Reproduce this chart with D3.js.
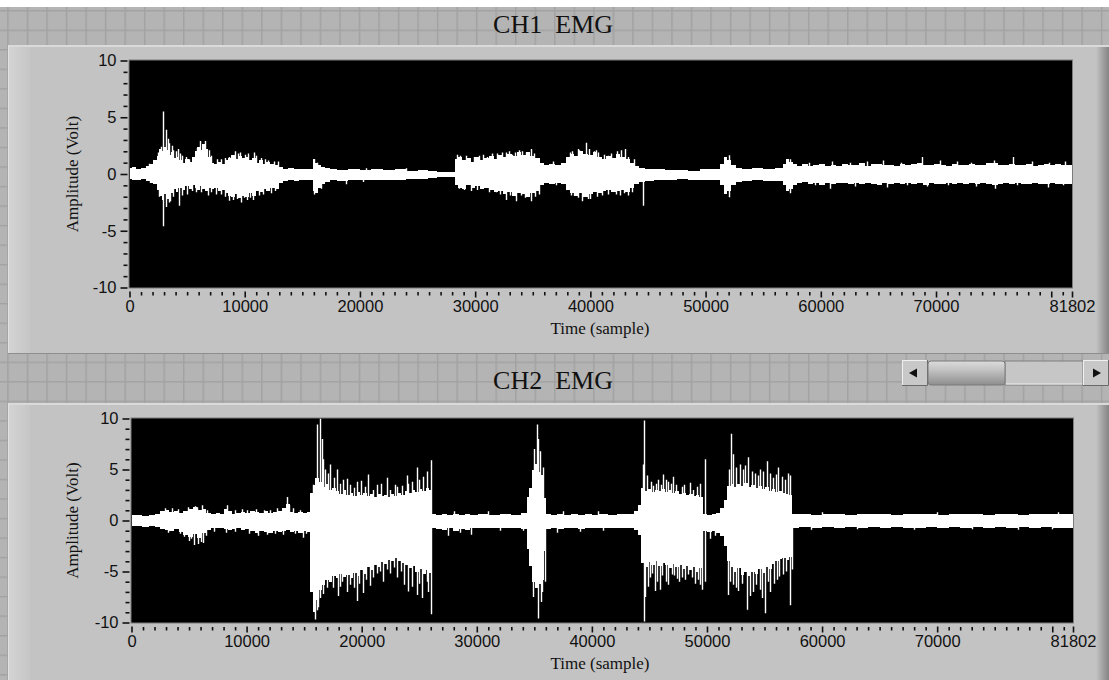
<!DOCTYPE html>
<html><head><meta charset="utf-8">
<script src="https://cdn.jsdelivr.net/npm/d3@7"></script>
<style>body{margin:0;background:#fff;overflow:hidden}svg{display:block}</style>
</head><body><svg id="c" width="1109" height="680"></svg>
<script>
// ---------------- DATA ----------------
const titles = ["CH1  EMG", "CH2  EMG"];
const yTickValues = [10, 5, 0, -5, -10];
const xTickValues = [0, 10000, 20000, 30000, 40000, 50000, 60000, 70000, 80000, 81802];
const xTickLabels = ["0", "10000", "20000", "30000", "40000", "50000", "60000", "70000", "", "81802"];
const xMax = 81802;
const yLabel = "Amplitude (Volt)";
const xLabel = "Time (sample)";

// CH1 envelope: [sample, upper volt, lower volt]
const ch1Envelope = [[0,0.5,-0.45],[400,0.6,-0.5],[800,0.45,-0.55],[1200,0.55,-0.45],[1600,0.7,-0.6],[1900,0.9,-0.75],[2200,1.2,-0.9],[2500,1.6,-1.4],[2700,2.2,-1.9],[2900,2.0,-2.3],[3100,2.4,-1.8],[3300,2.1,-2.2],[3500,1.7,-1.5],[3700,1.9,-1.7],[3900,1.4,-1.3],[4100,1.5,-1.6],[4400,1.2,-1.2],[4700,1.0,-1.4],[5000,1.3,-1.1],[5300,1.1,-1.3],[5600,1.5,-1.0],[5800,2.0,-1.2],[6000,2.4,-1.4],[6200,2.1,-1.1],[6400,2.6,-1.3],[6700,2.2,-1.5],[6950,1.5,-1.2],[7200,1.0,-1.3],[7500,0.9,-1.2],[7800,1.1,-1.5],[8100,0.9,-1.4],[8400,1.2,-1.7],[8700,1.4,-1.9],[9000,1.7,-2.0],[9300,1.3,-1.8],[9600,1.6,-2.1],[9900,1.4,-1.9],[10200,1.5,-2.0],[10500,1.2,-1.7],[10800,1.4,-1.9],[11100,1.0,-1.5],[11400,1.2,-1.6],[11700,0.9,-1.3],[12000,1.1,-1.5],[12400,0.9,-1.2],[12800,0.8,-1.3],[13200,0.6,-0.8],[13500,0.45,-0.6],[14000,0.5,-0.55],[14500,0.4,-0.6],[15000,0.45,-0.5],[15500,0.4,-0.55],[15900,0.4,-0.55],[16000,1.3,-1.5],[16200,1.0,-1.7],[16500,0.8,-1.2],[16800,0.6,-0.9],[17200,0.5,-0.7],[17600,0.4,-0.55],[18500,0.35,-0.6],[19500,0.4,-0.5],[20500,0.35,-0.55],[21500,0.4,-0.5],[22500,0.35,-0.5],[23500,0.4,-0.55],[24500,0.3,-0.45],[25500,0.35,-0.45],[26300,0.25,-0.35],[27000,0.2,-0.25],[28200,0.2,-0.25],[28350,1.3,-1.0],[28700,1.5,-1.2],[29000,1.2,-1.3],[29400,1.4,-1.0],[29800,1.1,-1.2],[30200,1.5,-1.1],[30600,1.2,-1.3],[31000,1.4,-1.2],[31400,1.6,-1.4],[31800,1.3,-1.6],[32200,1.7,-1.5],[32600,1.5,-1.8],[33000,1.8,-1.6],[33400,1.6,-1.9],[33800,1.9,-1.7],[34200,1.7,-1.8],[34600,1.9,-2.0],[35000,1.6,-1.7],[35400,1.4,-1.5],[35800,1.0,-1.0],[36200,0.8,-0.8],[36700,0.9,-0.9],[37200,0.8,-0.8],[37700,1.0,-0.9],[38100,1.5,-1.4],[38400,1.8,-1.7],[38800,1.6,-1.9],[39200,2.0,-1.7],[39600,1.8,-2.0],[40000,1.7,-1.8],[40400,1.9,-1.6],[40800,1.5,-1.7],[41200,1.3,-1.5],[41600,1.6,-1.4],[42000,1.4,-1.6],[42400,1.8,-1.5],[42800,1.5,-1.4],[43200,1.3,-1.6],[43600,1.0,-1.2],[44000,0.7,-0.9],[44400,0.5,-0.7],[45000,0.45,-0.6],[46000,0.4,-0.55],[47000,0.35,-0.5],[48000,0.35,-0.45],[49000,0.3,-0.5],[50000,0.4,-0.5],[51000,0.45,-0.55],[51500,0.9,-1.0],[51700,1.5,-1.8],[52000,1.2,-1.5],[52400,0.8,-1.0],[52800,0.5,-0.7],[53500,0.45,-0.6],[54500,0.5,-0.55],[55500,0.45,-0.6],[56500,0.5,-0.6],[56900,0.9,-1.0],[57100,1.3,-1.5],[57400,1.1,-1.3],[57700,0.9,-1.0],[58100,0.7,-0.8],[58600,0.9,-0.7],[59100,0.7,-0.9],[59600,0.8,-0.8],[60100,0.9,-1.0],[60600,0.7,-0.8],[61100,0.8,-0.9],[61600,0.7,-0.75],[62100,0.9,-0.8],[62600,0.75,-0.9],[63100,0.8,-0.75],[63600,0.95,-0.85],[64100,0.7,-0.8],[64600,0.85,-0.9],[65100,0.9,-1.0],[65600,0.75,-0.8],[66100,0.8,-0.9],[66600,0.7,-0.75],[67100,0.85,-0.85],[67600,0.75,-0.8],[68100,0.9,-0.9],[68600,1.0,-0.8],[69100,0.8,-0.95],[69600,0.75,-0.8],[70100,0.9,-0.85],[70600,0.8,-0.9],[71100,0.7,-0.75],[71600,0.85,-0.85],[72100,0.75,-0.8],[72600,0.8,-0.9],[73100,0.9,-0.8],[73600,0.75,-0.85],[74100,0.8,-0.8],[74600,0.95,-0.9],[75100,1.0,-1.0],[75600,0.8,-0.85],[76100,0.75,-0.8],[76600,0.9,-0.9],[77100,0.8,-0.8],[77600,0.75,-0.85],[78100,0.85,-0.9],[78600,0.7,-0.75],[79100,0.8,-0.85],[79600,0.9,-0.9],[80100,0.75,-0.8],[80600,0.85,-0.85],[81100,0.8,-0.9],[81802,0.8,-0.9]];

// CH1 individual spikes: [sample, peak volt]
const ch1Spikes = [[1700,0.9],[2200,1.1],[2500,1.9],[2750,2.4],[2950,5.5],[3180,3.9],[3350,3.1],[3470,2.7],[3650,2.5],[3800,2.1],[4000,2.0],[4190,2.2],[4400,1.8],[4600,1.6],[4900,1.5],[5200,1.3],[5500,1.5],[5900,2.3],[6160,2.9],[6350,2.4],[6500,2.6],[6590,2.9],[6940,2.1],[7100,1.6],[7600,1.3],[7900,1.3],[8300,1.4],[8600,1.5],[8900,1.6],[9190,2.0],[9400,1.8],[9600,1.9],[10000,1.7],[10300,1.8],[10840,1.9],[11000,1.6],[11400,1.4],[11800,1.3],[12000,1.2],[12500,1.1],[12860,1.1],[16040,1.3],[16300,1.0],[20500,0.5],[24000,0.5],[28400,1.7],[28700,1.6],[29200,1.6],[29500,1.4],[29900,1.5],[30300,1.6],[30700,1.7],[31000,1.5],[31500,1.8],[31900,1.8],[32300,1.9],[32660,1.9],[32900,2.0],[33200,1.7],[33500,1.9],[33810,2.1],[34100,2.0],[34400,1.9],[34820,2.2],[35100,1.8],[36800,1.1],[38200,1.9],[38440,2.0],[38900,2.2],[39000,2.1],[39590,2.75],[39900,2.2],[40320,2.0],[40500,2.1],[40700,1.9],[41200,1.7],[41500,1.6],[41800,1.8],[42300,2.0],[42650,2.1],[43030,2.2],[43300,1.5],[43800,1.3],[52000,1.65],[57350,1.3],[59000,1.0],[61000,1.1],[62500,1.0],[64000,1.1],[65440,1.2],[67000,1.0],[68770,1.5],[70360,1.2],[71800,1.1],[73000,1.0],[74990,1.2],[76720,1.5],[78300,1.1],[79800,1.0],[81200,1.1],
[1800,-0.8],[2600,-2.0],[2950,-4.6],[3180,-2.9],[3400,-2.5],[3500,-2.4],[3800,-2.0],[4280,-2.8],[4600,-1.9],[5000,-1.8],[5400,-1.5],[5800,-1.6],[6200,-1.6],[6790,-1.9],[7100,-1.6],[7500,-1.8],[7900,-1.8],[8300,-2.0],[8670,-2.35],[9000,-2.3],[9300,-2.2],[9680,-2.5],[9970,-2.1],[10200,-2.3],[10500,-2.1],[10690,-2.3],[11200,-1.9],[11600,-1.8],[12280,-1.7],[12600,-1.5],[16000,-1.8],[16600,-1.3],[18790,-0.9],[20230,-0.7],[28600,-1.3],[29000,-1.4],[29600,-1.5],[30200,-1.4],[30500,-1.3],[31200,-1.6],[31800,-1.6],[32200,-1.8],[32660,-2.3],[33000,-1.9],[33520,-2.4],[34000,-1.9],[34300,-2.1],[34820,-2.4],[35200,-2.0],[35500,-1.8],[37000,-1.0],[38300,-1.9],[38600,-1.9],[38900,-2.1],[39300,-2.4],[39800,-2.2],[40000,-2.2],[40600,-2.0],[41000,-1.9],[41500,-1.8],[42200,-1.8],[42600,-1.9],[42900,-1.7],[43300,-1.9],[43600,-1.6],[44560,-2.8],[52000,-2.05],[57350,-1.7],[59500,-1.0],[60810,-1.3],[63000,-1.1],[65730,-1.2],[67500,-1.0],[69200,-1.1],[71000,-1.0],[73500,-1.1],[75130,-1.3],[77000,-1.0],[79760,-1.2],[81000,-1.0]];

// CH2 envelope
const ch2Envelope = [[0,0.5,-0.55],[600,0.55,-0.5],[1200,0.45,-0.6],[1800,0.5,-0.55],[2300,0.6,-0.6],[2700,0.9,-0.8],[3100,1.0,-0.9],[3500,0.8,-1.0],[3900,0.9,-0.8],[4300,0.7,-1.1],[4700,0.9,-1.4],[5100,1.1,-1.6],[5500,1.3,-1.3],[5900,1.0,-1.7],[6300,1.1,-1.2],[6700,0.7,-0.9],[7100,0.6,-0.7],[7500,0.7,-0.75],[7900,0.6,-0.7],[8200,1.1,-0.8],[8500,0.9,-0.9],[8900,0.6,-0.8],[9300,0.7,-0.7],[9700,0.8,-0.9],[10100,0.7,-0.8],[10500,0.9,-1.0],[10900,0.8,-1.2],[11300,0.7,-1.0],[11700,0.9,-1.1],[12100,0.7,-1.2],[12500,0.8,-1.0],[12900,0.9,-1.1],[13300,1.2,-1.0],[13600,1.6,-0.9],[13900,0.8,-1.1],[14300,0.7,-1.0],[14700,0.8,-1.2],[15100,0.7,-1.0],[15450,0.8,-1.1],[15650,2.7,-7.0],[15850,3.5,-9.0],[16100,4.2,-7.8],[16400,3.8,-6.8],[16700,3.3,-6.3],[17000,3.6,-5.8],[17300,3.0,-6.0],[17600,3.2,-5.4],[17900,2.9,-5.6],[18200,2.6,-5.2],[18500,3.0,-5.5],[18800,2.5,-5.3],[19100,2.7,-5.6],[19400,2.4,-5.1],[19700,2.8,-5.4],[20000,2.5,-4.9],[20300,2.7,-5.2],[20600,2.4,-4.6],[20900,2.6,-4.9],[21200,2.3,-4.4],[21500,2.6,-4.6],[21800,2.4,-4.1],[22100,2.5,-4.3],[22400,2.3,-3.9],[22700,2.6,-4.0],[23000,2.4,-3.7],[23300,2.7,-4.0],[23600,2.5,-4.2],[23900,2.9,-4.4],[24200,2.7,-4.7],[24500,3.0,-4.5],[24800,2.8,-5.0],[25100,3.1,-4.8],[25400,2.9,-5.2],[25700,3.2,-4.9],[26000,3.0,-5.1],[26200,0.6,-0.7],[26700,0.55,-0.8],[27200,0.6,-0.9],[27700,0.5,-0.75],[28200,0.6,-1.0],[28700,0.55,-0.8],[29200,0.6,-0.9],[29700,0.5,-0.75],[30500,0.6,-0.7],[31500,0.55,-0.75],[32500,0.6,-0.7],[33500,0.55,-0.75],[34200,0.7,-0.8],[34450,2.3,-2.8],[34700,3.2,-4.5],[34950,5.0,-6.0],[35200,5.5,-6.6],[35450,4.8,-6.2],[35700,4.5,-5.8],[35950,2.2,-3.0],[36150,0.6,-0.8],[36700,0.55,-0.75],[37300,0.6,-0.8],[37900,0.5,-0.7],[38500,0.6,-0.75],[39100,0.55,-0.8],[39700,0.6,-0.7],[40300,0.55,-0.75],[41000,0.6,-0.7],[41800,0.55,-0.75],[42600,0.6,-0.7],[43400,0.65,-0.7],[43900,0.9,-0.9],[44200,1.5,-1.4],[44400,3.2,-4.2],[44700,2.9,-4.6],[45000,3.1,-4.1],[45300,2.8,-4.4],[45600,3.0,-4.0],[45900,2.9,-4.5],[46200,3.1,-4.2],[46500,2.8,-4.4],[46800,3.0,-4.7],[47100,2.7,-4.3],[47400,2.9,-4.6],[47700,2.6,-4.4],[48000,2.7,-4.8],[48300,2.5,-4.5],[48600,2.6,-4.9],[48900,2.4,-4.6],[49200,2.5,-5.0],[49500,2.3,-4.7],[49800,0.6,-1.0],[50200,0.55,-1.1],[50600,0.6,-1.0],[51000,0.7,-1.2],[51300,1.2,-1.5],[51600,2.0,-2.5],[51900,3.4,-4.0],[52200,3.6,-4.6],[52500,3.3,-5.0],[52800,3.6,-4.7],[53100,3.4,-5.3],[53400,3.7,-5.0],[53700,3.3,-5.4],[54000,3.5,-5.0],[54300,3.2,-5.2],[54600,3.4,-4.8],[54900,3.1,-5.1],[55200,3.3,-4.6],[55500,2.9,-4.8],[55800,3.1,-4.3],[56100,2.8,-4.0],[56400,2.9,-3.8],[56700,2.7,-3.7],[57000,2.6,-3.9],[57300,2.5,-3.6],[57550,0.6,-0.7],[58500,0.6,-0.65],[59500,0.55,-0.7],[60500,0.65,-0.65],[61500,0.6,-0.7],[62500,0.55,-0.65],[63500,0.6,-0.7],[64500,0.65,-0.65],[65500,0.6,-0.7],[66500,0.55,-0.65],[67500,0.6,-0.7],[68500,0.65,-0.7],[69500,0.6,-0.65],[70500,0.55,-0.7],[71500,0.6,-0.65],[72500,0.65,-0.7],[73500,0.6,-0.65],[74500,0.55,-0.7],[75500,0.6,-0.65],[76500,0.6,-0.7],[77500,0.55,-0.65],[78500,0.6,-0.7],[79500,0.65,-0.65],[80500,0.6,-0.7],[81802,0.6,-0.7]];

const ch2Spikes = [[2900,1.2],[3500,1.2],[4000,1.1],[4900,1.3],[5500,1.4],[5700,1.3],[6100,1.5],[6600,1.0],[8270,1.5],[9000,1.0],[9600,1.1],[10000,1.0],[10800,1.1],[11500,1.0],[12000,1.0],[12600,1.2],[13480,2.3],[13700,1.5],[14000,1.2],[14600,1.0],
[15800,3.5],[16090,9.4],[16380,10],[16520,8.0],[16650,6.0],[16810,5.0],[17050,4.6],[17250,5.5],[17600,4.2],[17820,5.0],[18150,3.6],[18400,4.0],[18700,4.1],[18980,3.5],[19300,3.2],[19560,3.8],[19900,3.9],[20300,3.3],[20580,4.5],[21000,3.0],[21300,3.5],[21700,3.6],[22170,4.2],[22500,3.0],[22900,3.5],[23040,3.3],[23500,3.4],[23900,4.4],[24000,3.6],[24340,3.8],[24770,5.2],[25000,4.0],[25350,4.3],[25700,4.8],[26020,5.9],
[34620,2.9],[35000,7.0],[35200,9.4],[35350,8.0],[35490,6.8],[35780,5.2],
[44450,5.5],[44550,9.8],[44750,4.4],[45100,3.8],[45330,3.4],[45600,3.6],[45770,4.0],[46000,3.5],[46200,4.5],[46400,4.0],[46640,3.8],[46900,3.6],[47070,4.3],[47300,3.5],[47800,3.3],[48000,3.5],[48520,3.7],[48800,3.0],[49100,3.3],[49400,3.6],[49820,6.0],
[51950,5.0],[52050,8.5],[52280,6.5],[52500,5.2],[52860,5.5],[53100,5.0],[53300,5.4],[53590,6.2],[53900,4.8],[54170,4.6],[54400,4.4],[54600,5.0],[54900,4.8],[55180,5.8],[55500,4.6],[55760,4.2],[56000,4.5],[56190,5.2],[56500,4.3],[56770,4.0],[57000,4.6],[57210,4.4],
[28000,0.9],[31000,0.9],[37500,0.9],[40500,0.9],[60000,0.8],[70000,0.8],[80500,0.8],
[3200,-1.2],[4200,-1.3],[4600,-1.6],[5000,-2.0],[5200,-1.8],[5400,-2.4],[5800,-2.3],[6000,-2.1],[6200,-2.2],[6500,-1.5],[7200,-1.1],[8200,-1.2],[9000,-1.1],[10200,-1.3],[11000,-1.5],[11800,-1.4],[12500,-1.3],[13200,-1.4],[14200,-1.3],[14900,-1.7],[15200,-1.3],
[15940,-9.7],[16100,-8.8],[16230,-8.5],[16380,-7.6],[16600,-7.2],[16960,-6.6],[17250,-6.0],[17500,-6.6],[17900,-7.4],[18110,-6.5],[18300,-6.0],[18690,-7.0],[19000,-6.3],[19300,-6.6],[19560,-7.9],[19800,-6.2],[20140,-7.1],[20400,-5.8],[20700,-6.4],[21010,-5.6],[21300,-5.2],[21600,-5.0],[21880,-6.0],[22200,-4.8],[22460,-5.2],[22800,-4.6],[23040,-5.6],[23400,-5.0],[23700,-6.3],[24050,-6.95],[24400,-6.5],[24770,-7.3],[25000,-6.2],[25210,-7.6],[25640,-6.0],[25800,-7.0],[26020,-9.2],
[27500,-1.5],[28500,-1.2],[29500,-1.4],[32000,-1.0],[34000,-1.0],
[34620,-3.5],[34900,-7.5],[35060,-6.0],[35350,-9.6],[35550,-8.0],[35640,-7.0],[35930,-6.0],
[37000,-1.2],[39000,-1.1],[41000,-1.0],
[44550,-9.9],[44650,-7.5],[44900,-6.5],[45040,-5.6],[45250,-5.2],[45480,-6.9],[45700,-6.0],[45910,-6.8],[46100,-5.4],[46400,-6.0],[46640,-6.3],[46930,-5.3],[47100,-5.4],[47360,-5.7],[47600,-6.0],[47800,-5.6],[48100,-5.8],[48370,-5.3],[48700,-5.6],[48950,-6.2],[49200,-5.8],[49390,-6.3],[49600,-6.8],[49820,-6.0],
[50260,-1.8],[50690,-1.5],
[51850,-7.3],[52000,-6.0],[52280,-6.3],[52500,-6.6],[52720,-6.9],[53000,-6.2],[53440,-8.75],[53700,-7.4],[54020,-7.0],[54300,-6.3],[54600,-6.8],[54800,-7.6],[55030,-9.1],[55300,-6.0],[55470,-7.0],[55800,-6.2],[56050,-5.8],[56300,-5.5],[56620,-5.3],[56900,-5.0],[57210,-8.3],[57350,-4.8],
[59000,-0.9],[63000,-0.85],[68000,-0.9],[73000,-0.85],[77000,-0.9],[80000,-0.85]];

// ---------------- DRAWING ----------------
const W = 1109, H = 680;
const svg = d3.select("#c");
const defs = svg.append("defs");

const pat = defs.append("pattern").attr("id", "grid").attr("patternUnits", "userSpaceOnUse")
  .attr("width", 19.53).attr("height", 19.53).attr("x", 7.2).attr("y", -9.5);
pat.append("rect").attr("width", 19.53).attr("height", 19.53).attr("fill", "#b4b4b4");
pat.append("path").attr("d", "M0,0.75H19.53M0.75,0V19.53").attr("stroke", "#a2a2a2").attr("stroke-width", 1.5);

const lg = defs.append("linearGradient").attr("id", "leftBevel");
lg.append("stop").attr("offset", 0).attr("stop-color", "#d4d4d4");
lg.append("stop").attr("offset", 1).attr("stop-color", "#c6c6c6");
const rg = defs.append("linearGradient").attr("id", "rightBevel");
rg.append("stop").attr("offset", 0).attr("stop-color", "#c3c3c3");
rg.append("stop").attr("offset", 0.4).attr("stop-color", "#a9a9a9");
rg.append("stop").attr("offset", 1).attr("stop-color", "#858585");
const tg = defs.append("linearGradient").attr("id", "thumb").attr("x1", 0).attr("y1", 0).attr("x2", 0).attr("y2", 1);
tg.append("stop").attr("offset", 0).attr("stop-color", "#dcdcdc");
tg.append("stop").attr("offset", 0.35).attr("stop-color", "#c4c4c4");
tg.append("stop").attr("offset", 1).attr("stop-color", "#8e8e8e");

svg.append("rect").attr("x", 0).attr("y", 7).attr("width", W).attr("height", H - 7).attr("fill", "url(#grid)");

const panels = [
  { title: titles[0], titleY: 33, y0: 45, y1: 354, plotL: 129.5, plotR: 1072, plotT: 60.5, plotB: 287.5,
    env: ch1Envelope, spikes: ch1Spikes },
  { title: titles[1], titleY: 389, y0: 403, y1: 690, plotL: 131.5, plotR: 1073, plotT: 418.5, plotB: 622.5,
    env: ch2Envelope, spikes: ch2Spikes }
];

const fmt = d => String(d);

panels.forEach((p, i) => {
  svg.append("text").attr("x", 553).attr("y", p.titleY).attr("text-anchor", "middle")
    .style("font-family", "'Liberation Serif','DejaVu Serif',serif").style("font-size", "26px")
    .style("white-space", "pre").attr("fill", "#111").text(p.title);

  const g = svg.append("g");
  g.append("rect").attr("x", 8).attr("y", p.y0).attr("width", W - 8).attr("height", p.y1 - p.y0).attr("fill", "#c3c3c3");
  g.append("rect").attr("x", 8).attr("y", p.y0).attr("width", 22).attr("height", p.y1 - p.y0).attr("fill", "url(#leftBevel)");
  g.append("rect").attr("x", 1096).attr("y", p.y0).attr("width", 13).attr("height", p.y1 - p.y0).attr("fill", "url(#rightBevel)");
  g.append("line").attr("x1", 8).attr("x2", W).attr("y1", p.y0 + 1).attr("y2", p.y0 + 1).attr("stroke", "#dadada").attr("stroke-width", 2);
  g.append("line").attr("x1", 8.5).attr("x2", 8.5).attr("y1", p.y0).attr("y2", p.y1).attr("stroke", "#e2e2e2").attr("stroke-width", 1);
  if (i === 0) g.append("line").attr("x1", 8).attr("x2", W).attr("y1", p.y1 - 0.5).attr("y2", p.y1 - 0.5).attr("stroke", "#8e8e8e");

  const x = d3.scaleLinear().domain([0, xMax]).range([p.plotL, p.plotR]);
  const y = d3.scaleLinear().domain([-10, 10]).range([p.plotB, p.plotT]);

  g.append("rect").attr("x", p.plotL - 0.5).attr("y", p.plotT - 0.5).attr("width", p.plotR - p.plotL + 1)
    .attr("height", p.plotB - p.plotT + 1).attr("fill", "#000").attr("stroke", "#7c7c7c").attr("stroke-width", 1);

  const clipId = "clip" + i;
  defs.append("clipPath").attr("id", clipId).append("rect")
    .attr("x", p.plotL).attr("y", p.plotT).attr("width", p.plotR - p.plotL).attr("height", p.plotB - p.plotT);
  const pg = g.append("g").attr("clip-path", `url(#${clipId})`);

  const area = d3.area().curve(d3.curveStep).x(d => x(d[0])).y0(d => y(d[2])).y1(d => y(d[1]));
  pg.append("path").attr("d", area(p.env)).attr("fill", "#fff").attr("shape-rendering", "crispEdges");

  pg.selectAll("line.spk").data(p.spikes).join("line").attr("class", "spk")
    .attr("x1", d => Math.round(x(d[0])) + 0.5).attr("x2", d => Math.round(x(d[0])) + 0.5)
    .attr("y1", y(0)).attr("y2", d => y(d[1]))
    .attr("stroke", "#fff").attr("stroke-width", 1.4);

  const yAxisX = p.plotL - 2;
  const yMajor = d3.axisLeft(y).tickValues(yTickValues).tickSize(7).tickPadding(4).tickFormat(fmt);
  const yA = g.append("g").attr("transform", `translate(${yAxisX},0)`).call(yMajor);
  const yMinor = d3.axisLeft(y).tickValues(d3.range(-10, 11, 1).filter(v => v % 5 !== 0)).tickSize(4).tickFormat("");
  const yB = g.append("g").attr("transform", `translate(${yAxisX},0)`).call(yMinor);
  [yA, yB].forEach(a => {
    a.select(".domain").remove();
    a.selectAll("line").attr("stroke", "#111").attr("stroke-width", 1.6);
    a.selectAll("text").style("font-family", "'Liberation Sans',Arial,sans-serif").style("font-size", "16.5px").attr("fill", "#111");
  });

  const xAxisY = p.plotB + 4;
  const xMajor = d3.axisBottom(x).tickValues(xTickValues).tickSize(6).tickPadding(3)
    .tickFormat((d, k) => xTickLabels[k]);
  const xA = g.append("g").attr("transform", `translate(0,${xAxisY})`).call(xMajor);
  const xMinor = d3.axisBottom(x).tickValues(d3.range(1000, 81000 + 1, 1000).filter(v => v % 10000 !== 0)).tickSize(3.5).tickFormat("");
  const xB = g.append("g").attr("transform", `translate(0,${xAxisY + 0.5})`).call(xMinor);
  [xA, xB].forEach(a => {
    a.select(".domain").remove();
    a.selectAll("line").attr("stroke", "#111").attr("stroke-width", 1.6);
    a.selectAll("text").style("font-family", "'Liberation Sans',Arial,sans-serif").style("font-size", "16.5px").attr("fill", "#111");
  });

  g.append("text").attr("transform", `translate(72,${(p.plotT + p.plotB) / 2}) rotate(-90)`)
    .attr("text-anchor", "middle").attr("dy", "0.35em")
    .style("font-family", "'Liberation Serif','DejaVu Serif',serif").style("font-size", "17px").attr("fill", "#111").text(yLabel);
  g.append("text").attr("x", 600).attr("y", p.plotB + 46.5).attr("text-anchor", "middle")
    .style("font-family", "'Liberation Serif','DejaVu Serif',serif").style("font-size", "17px").attr("fill", "#111").text(xLabel);
});

// scrollbar
const sb = svg.append("g");
function bevelBox(x0, y0, w, h, fill) {
  sb.append("rect").attr("x", x0).attr("y", y0).attr("width", w).attr("height", h).attr("fill", fill);
  sb.append("path").attr("d", `M${x0 + 0.5},${y0 + h}V${y0 + 0.5}H${x0 + w}`).attr("stroke", "#f0f0f0").attr("fill", "none");
  sb.append("path").attr("d", `M${x0},${y0 + h - 0.5}H${x0 + w - 0.5}V${y0}`).attr("stroke", "#6a6a6a").attr("fill", "none");
}
sb.append("rect").attr("x", 1005).attr("y", 361).attr("width", 78).attr("height", 24).attr("fill", "#c6c6c6").attr("stroke", "#7e7e7e");
sb.append("line").attr("x1", 1006).attr("x2", 1082).attr("y1", 384).attr("y2", 384).attr("stroke", "#eeeeee");
bevelBox(902, 360, 26, 26, "#c8c8c8");
bevelBox(1083, 360, 26, 26, "#c8c8c8");
sb.append("rect").attr("x", 928).attr("y", 361).attr("width", 77).attr("height", 24).attr("rx", 3).attr("fill", "url(#thumb)").attr("stroke", "#7a7a7a");
sb.append("path").attr("d", "M909,373L917,368.5V377.5Z").attr("fill", "#111");
sb.append("path").attr("d", "M1101,373L1093,368.5V377.5Z").attr("fill", "#111");
</script>
</body></html>
